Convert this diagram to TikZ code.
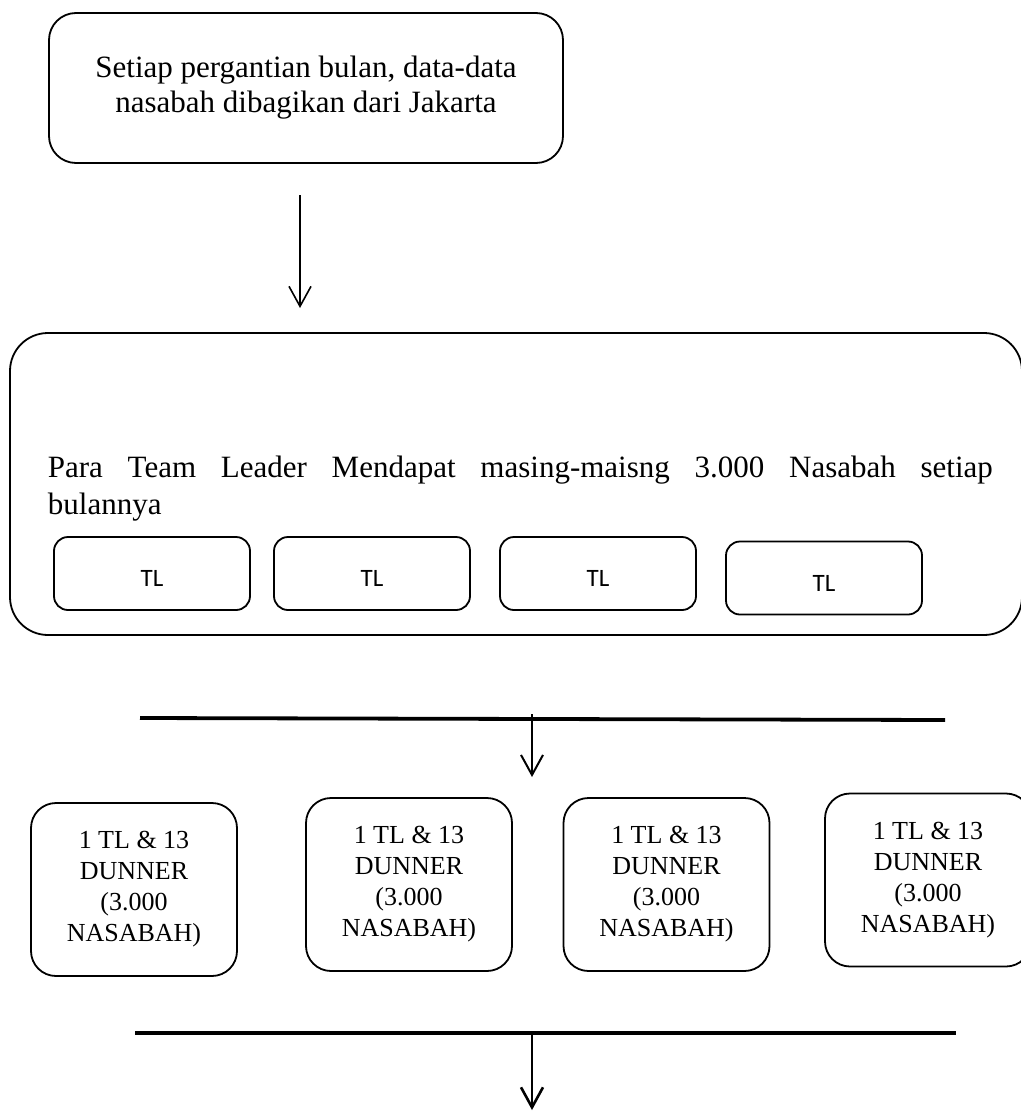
\documentclass[tikz,border=0pt]{standalone}
\usepackage{fontspec}
\setmainfont{Liberation Serif}
\newfontfamily\tlfont{Carlito}
\usetikzlibrary{positioning}
\usetikzlibrary{arrows.meta}

\begin{document}
\begin{tikzpicture}[x=1pt,y=-1pt,line width=1.8pt,
  box/.style={rectangle,draw,rounded corners=25pt,inner sep=0pt,align=center},
  tlbox/.style={box,rounded corners=14pt,minimum width=196pt,minimum height=73pt,
    text height=26pt,text depth=0pt,font=\tlfont\fontsize{25}{30}\selectfont},
  dunner/.style={box,minimum width=206pt,minimum height=173pt,font=\fontsize{26}{31}\selectfont},
  bar/.style={line width=3.8pt},
  arr/.style={-{Straight Barb[length=20pt,width=22pt]},line width=2pt}]

  \useasboundingbox (0,0) rectangle (1020,1113);

  % 1. Ebene
  \node[box,rounded corners=27pt,minimum width=514pt,minimum height=150pt,
    font=\fontsize{31}{35}\selectfont] (data) at (306,88)
    {Setiap pergantian bulan, data-data\\nasabah dibagikan dari Jakarta};

  % 2. Ebene
  \node[box,rounded corners=38pt,minimum width=1012pt,minimum height=302pt] (tim) at (516,484) {};
  \node[anchor=base west,inner sep=0pt,font=\fontsize{31}{37}\selectfont] (teks) at (47,477)
    {\parbox[t]{945pt}{\makebox[945pt][s]{Para Team Leader Mendapat masing-maisng 3.000 Nasabah setiap}\par bulannya}};

  \node[tlbox] (TL1) at (152,573.5) {TL};
  \node[tlbox] (TL2) [right=220pt of TL1.center,anchor=center] {TL};
  \node[tlbox] (TL3) [right=226pt of TL2.center,anchor=center] {TL};
  \node[tlbox] (TL4) [below right=4.5pt and 226pt of TL3.center,anchor=center] {TL};

  % 3. Ebene
  \node[dunner] (D1) at (134,889.5) {1 TL \& 13\\DUNNER\\(3.000\\NASABAH)};
  \node[dunner] (D2) [above right=5pt and 275pt of D1.center,anchor=center] {1 TL \& 13\\DUNNER\\(3.000\\NASABAH)};
  \node[dunner] (D3) [right=257.5pt of D2.center,anchor=center] {1 TL \& 13\\DUNNER\\(3.000\\NASABAH)};
  \node[dunner] (D4) [above right=4.5pt and 261.5pt of D3.center,anchor=center] {1 TL \& 13\\DUNNER\\(3.000\\NASABAH)};

  % Pfeile und Balken
  \coordinate (p1a) at (300,195);
  \coordinate (p1b) at (300,308);
  \coordinate (g1a) at (140,718);
  \coordinate (g1b) at (945,720);
  \coordinate (p2a) at (532,714);
  \coordinate (p2b) at (532,777);
  \coordinate (g2a) at (135,1033);
  \coordinate (g2b) at (956,1033);
  \coordinate (p3a) at (532,1033);
  \coordinate (p3b) at (532,1110);

  \draw[arr,line width=1.6pt] (p1a) -- (p1b);
  \draw[bar] (g1a) -- (g1b);
  \draw[arr] (p2a) -- (p2b);
  \draw[bar] (g2a) -- (g2b);
  \draw[arr,line width=2.6pt] (p3a) -- (p3b);

\end{tikzpicture}
\end{document}
